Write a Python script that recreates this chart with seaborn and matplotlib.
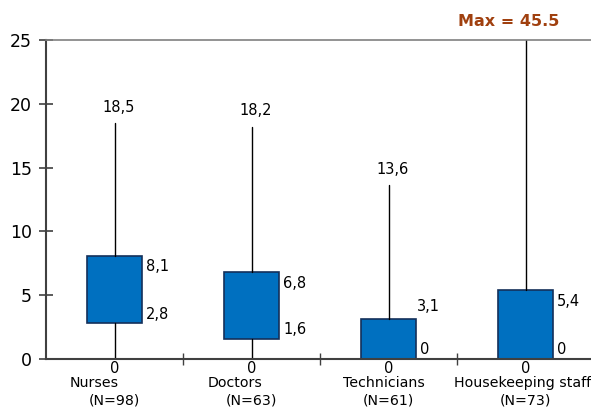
import matplotlib
matplotlib.use("Agg")
import matplotlib.pyplot as plt
import matplotlib.transforms as mtransforms
import seaborn as sns

sns.set_style("ticks")
plt.rcParams["font.family"] = ["DejaVu Sans"]
plt.rcParams["text.color"] = "black"
plt.rcParams["ytick.labelcolor"] = "black"

# data
groups = ["Nurses", "Doctors", "Technicians", "Housekeeping staff"]
n_obs = [98, 63, 61, 73]
mins = [0, 0, 0, 0]
q1 = [2.8, 1.6, 0, 0]
q3 = [8.1, 6.8, 3.1, 5.4]
maxs = [18.5, 18.2, 13.6, 45.5]
y_ticks = [0, 5, 10, 15, 20, 25]

# styling only
name_dx = [-0.15, -0.12, -0.03, -0.02]
q3_above = [False, False, True, False]
box_w = 0.4


def fmt(v):
    return ("%g" % v).replace(".", ",")


fig = plt.figure(figsize=(5.91, 4.08), dpi=100)
ax = fig.add_axes([46 / 591, 49 / 408, 548 / 591, 319 / 408])

stats = []
for g, lo, a, b, hi in zip(groups, mins, q1, q3, maxs):
    stats.append(dict(label=g, med=a, q1=a, q3=b, whislo=lo, whishi=hi))

ax.bxp(stats, positions=range(len(groups)), widths=box_w, patch_artist=True,
       showcaps=False, showfliers=False,
       boxprops=dict(facecolor="#0070C0", edgecolor="#14305A", linewidth=1.2),
       whiskerprops=dict(color="black", linewidth=1),
       medianprops=dict(linewidth=0))

ax.set_xlim(-0.5, len(groups) - 0.5)
ax.set_ylim(0, 25)
ax.set_yticks(y_ticks)
ax.tick_params(axis="y", direction="inout", length=10, width=1.2,
               labelsize=12.5, pad=5, color="#404040", labelcolor="black")
ax.set_xticks(range(len(groups)))
ax.set_xticklabels([])
ax.tick_params(axis="x", which="major", length=0)
ax.set_xticks([i + 0.5 for i in range(len(groups) - 1)], minor=True)
ax.tick_params(axis="x", which="minor", direction="inout", length=9,
               width=1, color="#404040")

for s in ["left", "bottom"]:
    ax.spines[s].set_color("#404040")
    ax.spines[s].set_linewidth(1.5)
ax.spines["top"].set_color("#808080")
ax.spines["top"].set_linewidth(1.2)
ax.spines["right"].set_visible(False)

fs = 10.5
tr = mtransforms.blended_transform_factory(ax.transData, ax.transAxes)
for i, g in enumerate(groups):
    right = i + box_w / 2
    # max label
    if maxs[i] <= 25:
        ax.annotate(fmt(maxs[i]), (i, maxs[i]), xytext=(3, 6),
                    textcoords="offset points", ha="center", va="bottom",
                    fontsize=fs)
    # q3 label
    if q3_above[i]:
        ax.annotate(fmt(q3[i]), (right, q3[i]), xytext=(1, 9),
                    textcoords="offset points", ha="left", va="center",
                    fontsize=fs)
    else:
        ax.annotate(fmt(q3[i]), (right, q3[i]), xytext=(3, -8),
                    textcoords="offset points", ha="left", va="center",
                    fontsize=fs)
    # q1 label
    ax.annotate(fmt(q1[i]), (right, q1[i]), xytext=(3, 6.5),
                textcoords="offset points", ha="left", va="center",
                fontsize=fs)
    # min label under the axis
    ax.annotate(fmt(mins[i]), (i, mins[i]), xytext=(0, -1.5),
                textcoords="offset points", ha="center", va="top",
                fontsize=fs, annotation_clip=False)
    ax.text(i + name_dx[i], -0.076, g, transform=tr, ha="center",
            va="center", fontsize=10.2)
    ax.text(i, -0.131, "(N=%d)" % n_obs[i], transform=tr, ha="center",
            va="center", fontsize=10.2)

last = len(groups) - 1
ax.annotate("Max = %g" % maxs[last], (last, 25), xytext=(-12, 13),
            textcoords="offset points", ha="center", va="center",
            fontsize=11.5, fontweight="bold", color="#A0400F",
            annotation_clip=False)

fig.savefig("out.png", dpi=100)
